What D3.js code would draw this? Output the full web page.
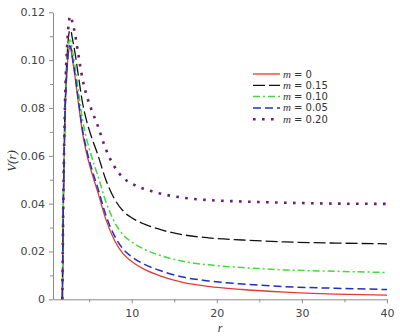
<!DOCTYPE html>
<html>
<head>
<meta charset="utf-8">
<script src="https://cdn.jsdelivr.net/npm/d3@7"></script>
<style>
  body { margin: 0; background: #fff; }
  .axis path, .axis line { stroke: #8c8c8c; }
  .axis text { fill: #444; font-family: "DejaVu Sans", sans-serif; font-size: 11px; }
  .lg text { font-family: "DejaVu Sans", sans-serif; font-size: 10px; fill: #333; }
</style>
</head>
<body>
<svg id="chart" width="400" height="336"></svg>
<script>
// radial coordinate samples shared by all curves
const rVals = [1.85, 1.95, 2.05, 2.2, 2.4, 2.6, 2.7, 2.85, 3.0, 3.3, 3.7, 4.2, 4.7, 5.3, 6, 7, 8, 9, 10, 11.5, 13.5, 16, 19, 23, 28, 34, 40];

// potential values, one array per m
const vM0 = [0, 0.035, 0.058, 0.081, 0.096, 0.104, 0.1052, 0.1045, 0.101, 0.094, 0.083, 0.070, 0.061, 0.053, 0.045, 0.033, 0.0245, 0.019, 0.0158, 0.0125, 0.0096, 0.0071, 0.0054, 0.0041, 0.0030, 0.0022, 0.0017];
const vM015 = [0, 0.0361, 0.0602, 0.0846, 0.1012, 0.1105, 0.1123, 0.1124, 0.1096, 0.1039, 0.0943, 0.0826, 0.0746, 0.0676, 0.0606, 0.0496, 0.0418, 0.0369, 0.0341, 0.0314, 0.029, 0.027, 0.0257, 0.0248, 0.024, 0.0235, 0.0232];
const vM010 = [0, 0.0355, 0.059, 0.0826, 0.0983, 0.1069, 0.1084, 0.108, 0.1048, 0.0984, 0.088, 0.0756, 0.0671, 0.0595, 0.0519, 0.0404, 0.0322, 0.0269, 0.024, 0.0209, 0.0182, 0.0159, 0.0144, 0.0133, 0.0123, 0.0117, 0.0112];
const vM005 = [0, 0.0351, 0.0582, 0.0814, 0.0966, 0.1047, 0.106, 0.1054, 0.102, 0.0951, 0.0843, 0.0714, 0.0625, 0.0546, 0.0467, 0.0348, 0.0264, 0.021, 0.0178, 0.0146, 0.0118, 0.0093, 0.0077, 0.0064, 0.0053, 0.0046, 0.0041];
const vM020 = [0, 0.037, 0.0619, 0.0874, 0.1052, 0.1155, 0.1178, 0.1185, 0.1163, 0.1116, 0.103, 0.0924, 0.0852, 0.079, 0.0727, 0.0624, 0.0553, 0.0508, 0.0484, 0.0461, 0.0441, 0.0425, 0.0415, 0.0409, 0.0404, 0.04, 0.0399];

// legend labels (m values) in legend order
const mLabels = ["0", "0.15", "0.10", "0.05", "0.20"];

// tick values
const xTicks = [10, 20, 30, 40];
const xMinor = [5, 15, 25, 35];
const yTicks = [0, 0.02, 0.04, 0.06, 0.08, 0.10, 0.12];
const yMinor = [0.01, 0.03, 0.05, 0.07, 0.09, 0.11];

const svg = d3.select("#chart");

// plot box
const pl = { left: 53, right: 387, top: 12.3, bottom: 299.3 };

const x = d3.scaleLinear().domain([0.75, 40]).range([pl.left, pl.right]);
const y = d3.scaleLinear().domain([0, 0.12]).range([pl.bottom, pl.top]);

// series styling
const series = [
  { vals: vM0, color: "#e23a36", dash: null, w: 1.3 },
  { vals: vM015, color: "#111111", dash: "12,4", w: 1.3 },
  { vals: vM010, color: "#3fdc3a", dash: "7,3,2,3", w: 1.5 },
  { vals: vM005, color: "#2030c0", dash: "8,4", w: 1.5 },
  { vals: vM020, color: "#6a1f6e", dash: "2.6,6.4", w: 2.6 },
];

// minor ticks first
svg.append("g").attr("class", "axis")
  .attr("transform", `translate(0,${pl.bottom})`)
  .call(d3.axisBottom(x).tickValues(xMinor).tickSize(3).tickFormat(""))
  .call((g) => g.select(".domain").remove());
svg.append("g").attr("class", "axis")
  .attr("transform", `translate(${pl.left},0)`)
  .call(d3.axisLeft(y).tickValues(yMinor).tickSize(3).tickFormat(""))
  .call((g) => g.select(".domain").remove());

// major axes
svg.append("g").attr("class", "axis")
  .attr("transform", `translate(0,${pl.bottom})`)
  .call(d3.axisBottom(x).tickValues(xTicks).tickSize(4).tickSizeOuter(0).tickPadding(6).tickFormat(d3.format("d")));
svg.append("g").attr("class", "axis")
  .attr("transform", `translate(${pl.left},0)`)
  .call(d3.axisLeft(y).tickValues(yTicks).tickSize(4).tickSizeOuter(0).tickPadding(4)
    .tickFormat((d) => (d === 0 ? "0" : d3.format(".2f")(d))));

// curves
const line = d3.line()
  .x((d) => x(d[0]))
  .y((d) => y(d[1]))
  .curve(d3.curveMonotoneX);

svg.append("g")
  .selectAll("path")
  .data(series)
  .join("path")
  .attr("d", (s) => line(rVals.map((r, i) => [r, s.vals[i]])))
  .attr("fill", "none")
  .attr("stroke", (s) => s.color)
  .attr("stroke-width", (s) => s.w)
  .attr("stroke-dasharray", (s) => s.dash);

// axis titles
svg.append("text")
  .attr("transform", `translate(16,161) rotate(-90)`)
  .attr("text-anchor", "middle")
  .style("font-family", "'Liberation Serif', serif")
  .style("font-style", "italic")
  .style("font-size", "13px")
  .attr("fill", "#333")
  .text("V(r)");
svg.append("text")
  .attr("x", (pl.left + pl.right) / 2)
  .attr("y", 332)
  .attr("text-anchor", "middle")
  .style("font-family", "'Liberation Serif', serif")
  .style("font-style", "italic")
  .style("font-size", "12px")
  .attr("fill", "#333")
  .text("r");

// legend
const lg = svg.append("g").attr("class", "lg");
const rows = lg.selectAll("g")
  .data(series)
  .join("g")
  .attr("transform", (d, i) => `translate(253,${74 + i * 11.3})`);
rows.append("line")
  .attr("x1", 0).attr("x2", 27)
  .attr("stroke", (s) => s.color)
  .attr("stroke-width", (s) => s.w)
  .attr("stroke-dasharray", (s) => s.dash);
rows.append("text")
  .attr("x", 30).attr("y", 3.5)
  .style("font-family", "'Liberation Serif', serif")
  .style("font-style", "italic")
  .style("font-size", "11px")
  .text("m");
rows.append("text")
  .attr("x", 41).attr("y", 3.5)
  .text((d, i) => "= " + mLabels[i]);
</script>
</body>
</html>
